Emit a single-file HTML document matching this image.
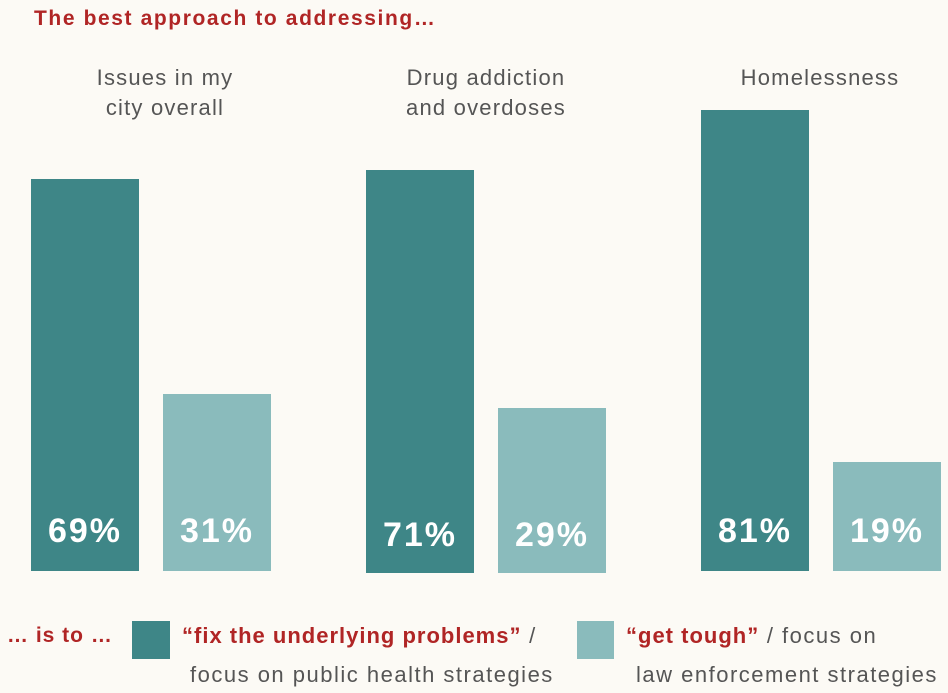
<!DOCTYPE html>
<html><head><style>
body{margin:0;width:948px;height:693px;background:#fcfaf5;position:relative;overflow:hidden;font-family:"Liberation Sans",sans-serif}
div{position:absolute}
.t{color:#555;font-size:22px;text-align:center;line-height:30px;letter-spacing:1.2px}
.d{background:#3e8687}.l{background:#8abbbc}
.v{color:#fff;font-weight:bold;font-size:34px;text-align:center;width:108px;letter-spacing:2px}
.r{color:#b02525;font-weight:bold}
.g{color:#555;font-size:22px;letter-spacing:1.5px;white-space:nowrap}
</style></head><body>
<div class="r" style="left:34px;top:7px;font-size:21px;letter-spacing:1.6px">The best approach to addressing…</div>
<div class="t" style="left:50px;top:63px;width:230px">Issues in my<br>city overall</div>
<div class="t" style="left:371px;top:63px;width:230px">Drug addiction<br>and overdoses</div>
<div class="t" style="left:705px;top:63px;width:230px">Homelessness</div>

<div class="d" style="left:31px;top:179px;width:108px;height:392px"></div>
<div class="l" style="left:163px;top:394px;width:108px;height:177px"></div>
<div class="d" style="left:366px;top:170px;width:108px;height:403px"></div>
<div class="l" style="left:498px;top:408px;width:108px;height:165px"></div>
<div class="d" style="left:701px;top:110px;width:108px;height:461px"></div>
<div class="l" style="left:833px;top:462px;width:108px;height:109px"></div>

<div class="v" style="left:31px;top:512px">69%</div>
<div class="v" style="left:163px;top:512px">31%</div>
<div class="v" style="left:366px;top:516px">71%</div>
<div class="v" style="left:498px;top:516px">29%</div>
<div class="v" style="left:701px;top:512px">81%</div>
<div class="v" style="left:833px;top:512px">19%</div>

<div class="r" style="left:7px;top:624px;font-size:21px;letter-spacing:1px">… is to …</div>
<div class="d" style="left:132px;top:621px;width:38px;height:38px"></div>
<div class="l" style="left:577px;top:621px;width:37px;height:38px"></div>
<div class="g" style="left:182px;top:623px"><span class="r" style="letter-spacing:1px">“fix the underlying problems”</span> /</div>
<div class="g" style="left:190px;top:662px">focus on public health strategies</div>
<div class="g" style="left:626px;top:623px"><span class="r" style="letter-spacing:1px">“get tough”</span> / focus on</div>
<div class="g" style="left:636px;top:662px">law enforcement strategies</div>
</body></html>
